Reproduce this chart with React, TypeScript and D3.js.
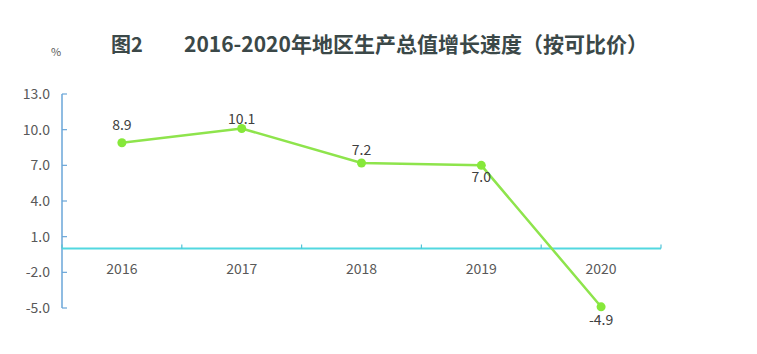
import React from "react";
import * as d3 from "d3";

const years = ["2016", "2017", "2018", "2019", "2020"];
const growth = [8.9, 10.1, 7.2, 7.0, -4.9];
const yTicks = [-5, -2, 1, 4, 7, 10, 13];

const width = 757;
const height = 354;
const margin = { top: 94, right: 96, bottom: 46, left: 62 };
const font = "'Noto Sans CJK SC', 'Open Sans', sans-serif";

export default function App() {
  const x = d3
    .scaleBand()
    .domain(years)
    .range([margin.left, width - margin.right])
    .padding(0);
  const y = d3
    .scaleLinear()
    .domain([-5, 13])
    .range([height - margin.bottom, margin.top]);

  const cx = (d: string) => (x(d) as number) + x.bandwidth() / 2;
  const pts: [number, number][] = years.map((d, i) => [cx(d), y(growth[i])]);
  const line = d3.line()(pts) as string;

  // label offsets from the point, as placed in the original
  const labelDy = [-18, -9, -13, 12, 13];
  const y0 = y(0);
  const edges = years.map((d) => x(d) as number).concat([width - margin.right]);

  return (
    <svg
      width={width}
      height={height}
      style={{ position: "absolute", left: 0, top: 0, background: "#fff" }}
    >
      {/* title */}
      <text x={111} y={52} fontFamily={font} fontWeight="bold" fontSize={20} fill="#3b4848">
        图2
      </text>
      <text x={184} y={52} fontFamily={font} fontWeight="bold" fontSize={21} fill="#3b4848">
        2016-2020年地区生产总值增长速度（按可比价）
      </text>
      <text x={56} y={56} textAnchor="middle" fontFamily={font} fontSize={11} fill="#595959">
        %
      </text>

      {/* y axis */}
      <line x1={margin.left} x2={margin.left} y1={y(13)} y2={y(-5)} stroke="#6aa6d8" strokeWidth={1.5} />
      {yTicks.map((t) => (
        <g key={t}>
          <line x1={margin.left} x2={margin.left + 5} y1={y(t)} y2={y(t)} stroke="#6aa6d8" strokeWidth={1.2} />
          <text
            x={50}
            y={y(t)}
            dy="0.35em"
            textAnchor="end"
            fontFamily={font}
            fontSize={14}
            fill="#595959"
          >
            {t.toFixed(1)}
          </text>
        </g>
      ))}

      {/* x axis */}
      <line x1={margin.left} x2={width - margin.right} y1={y0} y2={y0} stroke="#52d8e0" strokeWidth={2} />
      {edges.map((e, i) => (
        <line key={i} x1={e} x2={e} y1={y0} y2={y0 - 4} stroke="#52c4d8" strokeWidth={1.2} />
      ))}
      {years.map((d) => (
        <text
          key={d}
          x={cx(d)}
          y={y0 + 21}
          dy="0.35em"
          textAnchor="middle"
          fontFamily={font}
          fontSize={14}
          fill="#595959"
        >
          {d}
        </text>
      ))}

      {/* series */}
      <path d={line} fill="none" stroke="#8ee44c" strokeWidth={2.5} />
      {pts.map(([px, py], i) => (
        <g key={i}>
          <circle cx={px} cy={py} r={4.5} fill="#86e83a" />
          <text
            x={px}
            y={py + labelDy[i]}
            dy="0.35em"
            textAnchor="middle"
            fontFamily={font}
            fontSize={14}
            fill="#404040"
          >
            {growth[i].toFixed(1)}
          </text>
        </g>
      ))}
    </svg>
  );
}
